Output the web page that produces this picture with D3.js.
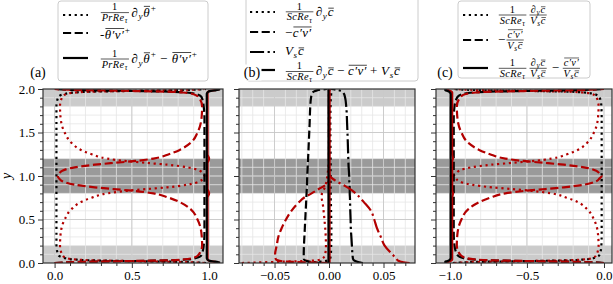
<!DOCTYPE html>
<html>
<head>
<meta charset="utf-8">
<script src="https://cdn.jsdelivr.net/npm/d3@7"></script>
<style>
  body { margin: 0; background: #fff; }
  svg { display: block; }
  text { font-family: 'Liberation Serif', 'DejaVu Serif', serif; }
</style>
</head>
<body>
<div id="chart"></div>
<script>
// wall-normal positions shared by panels (a) and (c)
const yAC = [0, 0.008, 0.015, 0.02, 0.025, 0.03, 0.04, 0.055, 0.09, 0.2, 0.35, 0.5, 0.62, 0.7, 0.75, 0.8, 0.83, 0.85, 0.87, 0.9, 0.94, 0.97, 1.0,
  1.03, 1.06, 1.1, 1.13, 1.15, 1.17, 1.2, 1.25, 1.3, 1.38, 1.5, 1.65, 1.8, 1.91, 1.945, 1.96, 1.97, 1.975, 1.98, 1.985, 1.992, 2.0];

// panel (a)
const aBlackDot = [0.98, 0.9, 0.75, 0.55, 0.4, 0.24, 0.13, 0.07, 0.025, 0.012,
  0.012, 0.012, 0.012, 0.012, 0.012, 0.012, 0.012, 0.012, 0.012, 0.012, 0.012, 0.012, 0.012,
  0.012, 0.012, 0.012, 0.012, 0.012, 0.012, 0.012, 0.012, 0.012, 0.012, 0.012, 0.012, 0.012,
  0.025, 0.07, 0.13, 0.24, 0.4, 0.55, 0.75, 0.9, 0.98];
const aBlackDash = [0, 0.08, 0.23, 0.43, 0.58, 0.74, 0.85, 0.91, 0.95, 0.965,
  0.97, 0.97, 0.97, 0.97, 0.97, 0.97, 0.97, 0.97, 0.97, 0.97, 0.97, 0.97, 0.97,
  0.97, 0.97, 0.97, 0.97, 0.97, 0.97, 0.97, 0.97, 0.97, 0.97, 0.97, 0.97, 0.965,
  0.95, 0.91, 0.85, 0.74, 0.58, 0.43, 0.23, 0.08, 0];
const aBlackSolid = [1.07, 1.06, 1.04, 1.02, 1.005, 0.995, 0.99, 0.985, 0.985, 0.985,
  0.985, 0.985, 0.985, 0.985, 0.985, 0.985, 0.985, 0.985, 0.985, 0.985, 0.985, 0.985, 0.985,
  0.985, 0.985, 0.985, 0.985, 0.985, 0.985, 0.985, 0.985, 0.985, 0.985, 0.985, 0.985, 0.985,
  0.985, 0.985, 0.99, 0.995, 1.005, 1.02, 1.04, 1.06, 1.07];
const aRedDot = [0.97, 0.88, 0.72, 0.55, 0.4, 0.25, 0.14, 0.08, 0.05, 0.035, 0.04, 0.065, 0.11, 0.17, 0.24, 0.34, 0.47, 0.6, 0.73, 0.86, 0.94, 0.96, 0.97,
  0.96, 0.94, 0.86, 0.73, 0.6, 0.47, 0.34, 0.24, 0.17, 0.11, 0.065, 0.04, 0.035, 0.05, 0.08, 0.14, 0.25, 0.4, 0.55, 0.72, 0.88, 0.97];
const aRedDash = [0, 0.09, 0.25, 0.42, 0.57, 0.72, 0.83, 0.89, 0.93, 0.955, 0.95, 0.925, 0.88, 0.81, 0.74, 0.64, 0.51, 0.38, 0.26, 0.13, 0.05, 0.03, 0.02,
  0.03, 0.05, 0.13, 0.26, 0.38, 0.51, 0.64, 0.74, 0.81, 0.88, 0.925, 0.95, 0.955, 0.93, 0.89, 0.83, 0.72, 0.57, 0.42, 0.25, 0.09, 0];
const aRedSolid = [1.07, 1.05, 1.03, 1.01, 1.0, 0.995, 0.99, 0.99, 0.99, 0.99, 0.99, 0.99, 0.99, 0.99, 0.99, 1.0, 0.995, 0.99, 0.99, 0.99, 0.99, 0.99, 0.99,
  0.99, 0.99, 0.99, 0.99, 0.99, 0.995, 1.0, 0.99, 0.99, 0.99, 0.99, 0.99, 0.99, 0.99, 0.99, 0.99, 0.995, 1.0, 1.01, 1.03, 1.05, 1.07];

// panel (c)
const cBlackDot = [-0.98, -0.9, -0.75, -0.55, -0.4, -0.24, -0.13, -0.07, -0.03, -0.017,
  -0.015, -0.015, -0.015, -0.015, -0.015, -0.015, -0.015, -0.015, -0.015, -0.015, -0.015, -0.015, -0.015,
  -0.015, -0.015, -0.015, -0.015, -0.015, -0.015, -0.015, -0.015, -0.015, -0.015, -0.015, -0.015, -0.017,
  -0.03, -0.07, -0.13, -0.24, -0.4, -0.55, -0.75, -0.9, -0.98];
const cBlackDash = [0, -0.08, -0.23, -0.43, -0.58, -0.74, -0.85, -0.91, -0.95, -0.97,
  -0.975, -0.975, -0.975, -0.975, -0.975, -0.975, -0.975, -0.975, -0.975, -0.975, -0.975, -0.975, -0.975,
  -0.975, -0.975, -0.975, -0.975, -0.975, -0.975, -0.975, -0.975, -0.975, -0.975, -0.975, -0.975, -0.97,
  -0.95, -0.91, -0.85, -0.74, -0.58, -0.43, -0.23, -0.08, 0];
const cBlackSolid = [-1.02, -1.03, -1.03, -1.02, -1.01, -1.005, -1.0, -0.995, -0.995, -0.995,
  -0.995, -0.995, -0.995, -0.995, -0.995, -0.995, -0.995, -0.995, -0.995, -0.995, -0.995, -0.995, -0.995,
  -0.995, -0.995, -0.995, -0.995, -0.995, -0.995, -0.995, -0.995, -0.995, -0.995, -0.995, -0.995, -0.995,
  -0.995, -0.995, -1.0, -1.005, -1.01, -1.02, -1.03, -1.03, -1.02];
const cRedDot = [-0.97, -0.88, -0.72, -0.55, -0.4, -0.25, -0.14, -0.08, -0.05, -0.035, -0.04, -0.065, -0.11, -0.17, -0.24, -0.34, -0.47, -0.6, -0.73, -0.86, -0.94, -0.96, -0.975,
  -0.96, -0.94, -0.86, -0.73, -0.6, -0.47, -0.34, -0.24, -0.17, -0.11, -0.065, -0.04, -0.035, -0.05, -0.08, -0.14, -0.25, -0.4, -0.55, -0.72, -0.88, -0.97];
const cRedDash = [0, -0.09, -0.25, -0.42, -0.57, -0.72, -0.83, -0.89, -0.93, -0.955, -0.95, -0.925, -0.88, -0.81, -0.74, -0.64, -0.51, -0.38, -0.26, -0.13, -0.05, -0.03, -0.015,
  -0.03, -0.05, -0.13, -0.26, -0.38, -0.51, -0.64, -0.74, -0.81, -0.88, -0.925, -0.95, -0.955, -0.93, -0.89, -0.83, -0.72, -0.57, -0.42, -0.25, -0.09, 0];
const cRedSolid = [-1.02, -1.02, -1.01, -1.0, -0.995, -0.99, -0.985, -0.985, -0.985, -0.985, -0.985, -0.985, -0.985, -0.985, -0.985, -0.98, -0.985, -0.985, -0.985, -0.985, -0.985, -0.985, -0.985,
  -0.985, -0.985, -0.985, -0.985, -0.985, -0.985, -0.98, -0.985, -0.985, -0.985, -0.985, -0.985, -0.985, -0.985, -0.985, -0.985, -0.99, -0.995, -1.0, -1.01, -1.02, -1.02];

// panel (b)
const yB = [0, 0.005, 0.015, 0.03, 0.05, 0.1, 0.2, 0.3, 0.4, 0.5, 0.6, 0.7, 0.75, 0.8, 0.85, 0.9, 0.95, 1.0,
  1.05, 1.1, 1.2, 1.4, 1.6, 1.8, 1.9, 1.95, 1.97, 1.985, 1.995, 2.0];
const bBlackDashDot = [0.031, 0.029, 0.026, 0.023, 0.022, 0.0215, 0.021, 0.0205, 0.02, 0.0198, 0.0195, 0.0193, 0.0192, 0.019, 0.019, 0.0188, 0.0186, 0.0185,
  0.0183, 0.018, 0.0177, 0.0172, 0.0166, 0.0158, 0.0148, 0.0135, 0.012, 0.009, 0.005, 0.002];
const bBlackDash = [-0.006, -0.012, -0.018, -0.022, -0.0232, -0.0232, -0.023, -0.0226, -0.0222, -0.0218, -0.0214, -0.021, -0.0208, -0.0206, -0.0204, -0.0202, -0.0201, -0.02,
  -0.0198, -0.0196, -0.0192, -0.0185, -0.0178, -0.0172, -0.0165, -0.0155, -0.014, -0.011, -0.006, -0.002];
const bBlackDot = [-0.025, -0.017, -0.008, -0.001, 0.001, 0.0017, 0.002, 0.0021, 0.0022, 0.002, 0.0019, 0.0017, 0.0016, 0.0016, 0.0015, 0.0014, 0.0015, 0.0015,
  0.0015, 0.0016, 0.0015, 0.0013, 0.0012, 0.0014, 0.0017, 0.002, 0.002, 0.002, 0.001, 0];
const bBlackSolid = [-0.0005, -0.0005, -0.0005, -0.0005, -0.0005, -0.0005, -0.0005, -0.0005, -0.0005, -0.0005, -0.0005, -0.0005, -0.0005, -0.0005, -0.0005, -0.0005, -0.0005, -0.0005,
  -0.0005, -0.0005, -0.0005, -0.0005, -0.0005, -0.0005, -0.0005, -0.0005, -0.0005, -0.0005, -0.0005, -0.0005];
const bRedDot = [-0.08, -0.068, -0.042, -0.012, -0.006, -0.0035, -0.0028, -0.003, -0.0035, -0.0042, -0.005, -0.006, -0.0068, -0.0065, -0.0045, -0.003, -0.0022, -0.0015,
  -0.001, -0.0005, 0, 0, 0, 0, 0, 0, 0, 0, 0, 0];
const bRedDash = [0, -0.012, -0.038, -0.047, -0.049, -0.0495, -0.048, -0.0465, -0.0435, -0.0395, -0.0345, -0.0275, -0.023, -0.016, -0.0095, -0.003, 0, 0,
  0, 0, 0, 0, 0, 0, 0, 0, 0, 0, 0, 0];
const bRedDashDot = [0.074, 0.07, 0.066, 0.063, 0.062, 0.058, 0.051, 0.0475, 0.044, 0.0415, 0.0385, 0.032, 0.0285, 0.0245, 0.0195, 0.0125, 0.0055, 0.0008,
  0, 0, 0, 0, 0, 0, 0, 0, 0, 0, 0, 0];
const bRedSolid = [0.0005, 0.0005, 0.0005, 0.0005, 0.0005, 0.0005, 0.0005, 0.0005, 0.0005, 0.0005, 0.0005, 0.0005, 0.0005, 0.0005, 0.0005, 0.0005, 0.0005, 0.0005,
  0.0005, 0.0005, 0.0005, 0.0005, 0.0005, 0.0005, 0.0005, 0.0005, 0.0005, 0.0005, 0.0005, 0.0005];

const yTicks = [0, 0.5, 1, 1.5, 2];
const aTicks = [0, 0.5, 1];
const bTicks = [-0.05, 0, 0.05];
const cTicks = [-1, -0.5, 0];
const lightBands = [[0, 0.2], [1.8, 2]];
const darkBands = [[0.8, 1.2]];

const W = 613, H = 284;
const RED = "#b20000";
const LW = 2.2;
const serif = "'Liberation Serif', 'DejaVu Serif', serif";
const dashes = {
  dot: `${LW},${1.65 * LW}`,
  dash: `${3.7 * LW},${1.6 * LW}`,
  dashdot: `${6.4 * LW},${1.6 * LW},${LW},${1.6 * LW}`,
  solid: null
};

const svg = d3.select("#chart").append("svg")
  .attr("width", W).attr("height", H);

const plotTop = 89, plotBottom = 263;
const y = d3.scaleLinear().domain([0, 2]).range([plotBottom, plotTop]);

const panels = [
  { id: "a", x0: 43, x1: 223, dom: [-0.075, 1.09], ticks: aTicks, minor: 0.1, fmt: d3.format(".1f"), ys: yAC,
    series: [
      [aBlackDot, "#000", "dot"], [aRedDot, RED, "dot"], [aBlackDash, "#000", "dash"], [aRedDash, RED, "dash"],
      [aRedSolid, RED, "solid"], [aBlackSolid, "#000", "solid"]] },
  { id: "b", x0: 239, x1: 415, dom: [-0.0826, 0.0789], ticks: bTicks, minor: 0.01, fmt: d3.format(".2f"), ys: yB,
    series: [
      [bBlackDot, "#000", "dot"], [bRedDot, RED, "dot"], [bBlackDash, "#000", "dash"], [bRedDash, RED, "dash"],
      [bBlackDashDot, "#000", "dashdot"], [bRedDashDot, RED, "dashdot"],
      [bRedSolid, RED, "solid"], [bBlackSolid, "#000", "solid"]] },
  { id: "c", x0: 436, x1: 612, dom: [-1.09, 0.052], ticks: cTicks, minor: 0.1, fmt: d3.format(".1f"), ys: yAC,
    series: [
      [cBlackDot, "#000", "dot"], [cRedDot, RED, "dot"], [cBlackDash, "#000", "dash"], [cRedDash, RED, "dash"],
      [cRedSolid, RED, "solid"], [cBlackSolid, "#000", "solid"]] }
];

panels.forEach((p, pi) => {
  const x = d3.scaleLinear().domain(p.dom).range([p.x0, p.x1]);
  const g = svg.append("g");

  g.append("clipPath").attr("id", "clip-" + p.id)
    .append("rect").attr("x", p.x0).attr("y", plotTop).attr("width", p.x1 - p.x0).attr("height", plotBottom - plotTop);

  lightBands.forEach(b => g.append("rect")
    .attr("x", p.x0).attr("width", p.x1 - p.x0)
    .attr("y", y(b[1])).attr("height", y(b[0]) - y(b[1]))
    .attr("fill", "#cbcbcb"));
  darkBands.forEach(b => g.append("rect")
    .attr("x", p.x0).attr("width", p.x1 - p.x0)
    .attr("y", y(b[1])).attr("height", y(b[0]) - y(b[1]))
    .attr("fill", "#9a9a9a"));

  // grid
  const xMinor = d3.range(Math.ceil(p.dom[0] / p.minor), Math.floor(p.dom[1] / p.minor) + 1).map(i => i * p.minor);
  const yMinor = d3.range(1, 20).map(i => i / 10);
  const grid = g.append("g").attr("clip-path", `url(#clip-${p.id})`);
  grid.selectAll(".vmin").data(xMinor).join("line")
    .attr("x1", d => x(d)).attr("x2", d => x(d)).attr("y1", plotTop).attr("y2", plotBottom)
    .attr("stroke", "#e6e6e6").attr("stroke-width", 0.8);
  grid.selectAll(".hmin").data(yMinor).join("line")
    .attr("x1", p.x0).attr("x2", p.x1).attr("y1", d => y(d)).attr("y2", d => y(d))
    .attr("stroke", "#e6e6e6").attr("stroke-width", 0.8);
  grid.selectAll(".vmaj").data(p.ticks).join("line")
    .attr("x1", d => x(d)).attr("x2", d => x(d)).attr("y1", plotTop).attr("y2", plotBottom)
    .attr("stroke", "#c4c4c4").attr("stroke-width", 0.8);
  grid.selectAll(".hmaj").data(yTicks).join("line")
    .attr("x1", p.x0).attr("x2", p.x1).attr("y1", d => y(d)).attr("y2", d => y(d))
    .attr("stroke", "#c4c4c4").attr("stroke-width", 0.8);

  // curves
  const lines = g.append("g").attr("clip-path", `url(#clip-${p.id})`);
  p.series.forEach(([vals, color, style]) => {
    const pts = vals.map((v, i) => [v, p.ys[i]]);
    lines.append("path")
      .attr("d", d3.line().x(d => x(d[0])).y(d => y(d[1])).curve(d3.curveMonotoneY)(pts))
      .attr("fill", "none").attr("stroke", color).attr("stroke-width", LW)
      .attr("stroke-dasharray", dashes[style]);
  });

  // axes
  g.append("g").attr("transform", `translate(0,${plotBottom})`)
    .call(d3.axisBottom(x).tickValues(p.ticks).tickFormat(p.fmt).tickSize(5).tickPadding(3));
  g.append("g").attr("transform", `translate(0,${plotBottom})`)
    .call(d3.axisBottom(x).tickValues(xMinor.filter(v => !p.ticks.some(t => Math.abs(t - v) < 1e-9))).tickFormat("").tickSize(3));
  g.append("g").attr("transform", `translate(${p.x0},0)`)
    .call(d3.axisLeft(y).tickValues(yTicks).tickFormat(pi === 0 ? d3.format(".1f") : "").tickSize(5).tickPadding(3));
  g.append("g").attr("transform", `translate(${p.x0},0)`)
    .call(d3.axisLeft(y).tickValues(yMinor.filter(v => Math.abs(v * 2 - Math.round(v * 2)) > 1e-9)).tickFormat("").tickSize(3));
  g.selectAll(".domain").remove();
  g.selectAll(".tick line").attr("stroke", "#333").attr("stroke-width", 1);
  g.selectAll(".tick text").style("font-family", serif).attr("font-size", 13).attr("fill", "#000");

  g.append("rect").attr("x", p.x0).attr("y", plotTop).attr("width", p.x1 - p.x0).attr("height", plotBottom - plotTop)
    .attr("fill", "none").attr("stroke", "#333").attr("stroke-width", 1.2);
});

svg.append("text").attr("transform", "translate(11,176) rotate(-90)")
  .attr("text-anchor", "middle").style("font-family", serif).attr("font-style", "italic")
  .attr("font-size", 14).text("y");

// ---------- minimal math typesetting ----------
const I = s => ({ k: "i", s });
const R = s => ({ k: "r", s });
const sub = (...s) => ({ k: "sub", s });
const sup = (...s) => ({ k: "sup", s });
const bar = (h, ...s) => ({ k: "bar", h, s });
const frac = (num, den) => ({ k: "frac", num, den });
const sp = w => ({ k: "sp", w });
const LS = 0.4; // extra letter spacing, the original face is wider than Times

function render(g, nodes, x0, y0, s) {
  let cx = x0;
  nodes.forEach(n => { cx += renderNode(g, n, cx, y0, s); });
  return cx - x0;
}

function renderNode(g, n, x0, y0, s) {
  if (n.k === "i" || n.k === "r") {
    const t = g.append("text").attr("x", x0).attr("y", y0)
      .style("font-family", serif).attr("font-size", s).style("letter-spacing", LS + "px")
      .attr("font-style", n.k === "i" ? "italic" : "normal").text(n.s);
    return t.node().getComputedTextLength();
  }
  if (n.k === "sp") return n.w * s;
  if (n.k === "sub") return render(g, n.s, x0 + 0.02 * s, y0 + 0.22 * s, 0.7 * s) + 0.05 * s;
  if (n.k === "sup") return render(g, n.s, x0 + 0.05 * s, y0 - 0.45 * s, 0.7 * s) + 0.05 * s;
  if (n.k === "bar") {
    const w = render(g, n.s, x0, y0, s);
    g.append("line").attr("x1", x0 + 0.05 * s).attr("x2", x0 + w)
      .attr("y1", y0 - n.h * s).attr("y2", y0 - n.h * s)
      .attr("stroke", "#000").attr("stroke-width", Math.max(0.6, 0.055 * s));
    return w;
  }
  if (n.k === "frac") {
    const f = 0.8 * s;
    const gn = g.append("g"), gd = g.append("g");
    const wn = render(gn, n.num, 0, 0, f);
    const wd = render(gd, n.den, 0, 0, f);
    const w = Math.max(wn, wd) + 0.25 * s;
    const axis = y0 - 0.3 * s;
    gn.attr("transform", `translate(${x0 + (w - wn) / 2},${axis - 0.17 * s})`);
    gd.attr("transform", `translate(${x0 + (w - wd) / 2},${axis + 0.13 * s + 0.66 * f})`);
    g.append("line").attr("x1", x0 + 0.06 * s).attr("x2", x0 + w - 0.06 * s)
      .attr("y1", axis).attr("y2", axis).attr("stroke", "#000").attr("stroke-width", 0.65);
    return w + 0.12 * s;
  }
  return 0;
}

const oneOver = lbl => frac([R("1")], [I(lbl + "Re"), sub(I("τ"))]);
const dy = () => [R("∂"), sub(I("y"))];
const thetaBar = () => bar(0.78, I("θ"));
const cBar = () => bar(0.58, I("c"));
const thetaFlux = () => bar(0.8, I("θ′v′"));
const cFlux = () => bar(0.78, I("c′v′"));
const VsC = () => [I("V"), sub(I("s")), cBar()];

const FS = 13;
// yc: legend handle centre, ya: text axis (fraction bar height)
const legends = [
  { box: [58, 1, 150, 80], label: "(a)", lx: 38, ly: 76.5, sx: 63, tx: 100, rows: [
    { yc: 15, ya: 12.6, style: "dot", m: [oneOver("Pr"), ...dy(), thetaBar(), sup(R("+"))] },
    { yc: 33, ya: 35, style: "dash", m: [R("-"), thetaFlux(), sup(R("+"))] },
    { yc: 58, ya: 59, style: "solid", m: [oneOver("Pr"), ...dy(), thetaBar(), sup(R("+")), sp(0.3), R("−"), sp(0.3), thetaFlux(), sup(R("+"))] }
  ] },
  { box: [246, -6, 172, 87], label: "(b)", lx: 252, ly: 76.5, sx: 250, tx: 285, bg: true, rows: [
    { yc: 12, ya: 11.8, style: "dot", m: [oneOver("Sc"), ...dy(), cBar()] },
    { yc: 32, ya: 33.2, style: "dash", m: [R("−"), cFlux()] },
    { yc: 52, ya: 51.5, style: "dashdot", m: VsC() },
    { yc: 70, ya: 71.5, style: "solid", m: [oneOver("Sc"), ...dy(), cBar(), sp(0.25), R("−"), sp(0.25), cFlux(), sp(0.25), R("+"), sp(0.25), ...VsC()] }
  ] },
  { box: [458, 1, 132, 77], label: "(c)", lx: 445, ly: 76.5, sx: 463, tx: 498, rows: [
    { yc: 15, ya: 15, style: "dot", m: [oneOver("Sc"), frac([...dy(), cBar()], VsC())] },
    { yc: 40, ya: 40, style: "dash", m: [R("−"), frac([cFlux()], VsC())] },
    { yc: 68, ya: 68.3, style: "solid", m: [oneOver("Sc"), frac([...dy(), cBar()], VsC()), sp(0.2), R("−"), sp(0.2), frac([cFlux()], VsC())] }
  ] }
];

legends.forEach(L => {
  const g = svg.append("g");
  g.append("rect").attr("x", L.box[0]).attr("y", L.box[1]).attr("width", L.box[2]).attr("height", L.box[3])
    .attr("rx", 3).attr("fill", "#fff").attr("fill-opacity", 0.8)
    .attr("stroke", "#cccccc").attr("stroke-width", 1);
  L.rows.forEach(r => {
    g.append("line").attr("x1", L.sx).attr("x2", L.sx + 25).attr("y1", r.yc).attr("y2", r.yc)
      .attr("stroke", "#000").attr("stroke-width", LW).attr("stroke-dasharray", dashes[r.style]);
    render(g, r.m, L.tx, r.ya + 0.3 * FS, FS);
  });
  const t = svg.append("text").attr("x", L.lx).attr("y", L.ly).attr("text-anchor", "middle")
    .style("font-family", serif).attr("font-size", 14).text(L.label);
  if (L.bg) {
    const bb = t.node().getBBox();
    svg.insert("rect", () => t.node())
      .attr("x", bb.x - 1).attr("y", bb.y).attr("width", bb.width + 2).attr("height", bb.height)
      .attr("fill", "#fff");
  }
});
</script>
</body>
</html>
